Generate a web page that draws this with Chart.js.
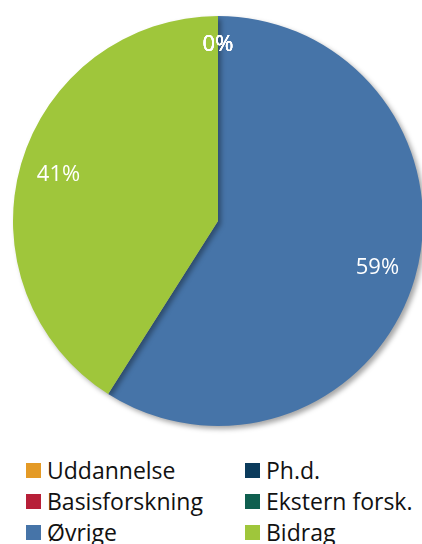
<!DOCTYPE html>
<html>
<head>
<meta charset="utf-8">
<script src="https://cdn.jsdelivr.net/npm/chart.js@4"></script>
<style>
  body { margin: 0; background: #fff; overflow: hidden; width: 422px; height: 544px; position: relative; }
  #wrap { position: absolute; left: 0; top: 0; width: 440px; height: 440px; }
  #legend { position: absolute; left: 26px; top: 457px; display: grid; grid-template-columns: 219px 180px; row-gap: 5px;
            font-family: "Open Sans", sans-serif; font-size: 23px; color: #111; }
  #legend div { display: flex; align-items: center; height: 26px; white-space: nowrap; }
  #legend span { display: inline-block; width: 15px; height: 15px; margin-right: 6px; }
</style>
</head>
<body>
<div id="wrap"><canvas id="pieChart"></canvas></div>
<div id="legend"></div>
<script>
// categories and shares
const labels = ['Uddannelse', 'Ph.d.', 'Basisforskning', 'Ekstern forsk.', 'Øvrige', 'Bidrag'];
const shares = [0, 0, 0, 0, 59, 41];
const colors = ['#E49A26', '#0B3B5C', '#B71F38', '#0F5F4F', '#4674A8', '#9FC63B'];

// legend, two columns like the original
const legendEl = document.getElementById('legend');
labels.forEach(function(l, i) {
  const item = document.createElement('div');
  item.innerHTML = '<span style="background:' + colors[i] + '"></span>' + l;
  legendEl.appendChild(item);
});

// soft shadow under the pie
const pieShadow = {
  id: 'pieShadow',
  beforeDatasetsDraw(chart) {
    const c = chart.ctx;
    c.save();
    c.shadowColor = 'rgba(0,0,0,0.35)';
    c.shadowBlur = 5;
    c.shadowOffsetX = 3;
    c.shadowOffsetY = 3;
  },
  afterDatasetsDraw(chart) {
    chart.ctx.restore();
  }
};

// percent labels inside the slices
const pctLabels = {
  id: 'pctLabels',
  afterDraw(chart) {
    const c = chart.ctx;
    const meta = chart.getDatasetMeta(0);
    const data = chart.data.datasets[0].data;
    const total = data.reduce((a, b) => a + b, 0);
    c.save();
    c.fillStyle = '#fff';
    c.font = '22px "Open Sans", sans-serif';
    c.textAlign = 'center';
    c.textBaseline = 'middle';
    meta.data.forEach(function(arc, i) {
      const p = arc.getProps(['x', 'y', 'startAngle', 'endAngle', 'outerRadius'], true);
      const mid = (p.startAngle + p.endAngle) / 2;
      const f = data[i] < 1 ? 0.86 : 0.81;
      const px = p.x + Math.cos(mid) * p.outerRadius * f;
      const py = p.y + Math.sin(mid) * p.outerRadius * f;
      c.fillText(Math.round(data[i] / total * 100) + '%', px, py);
    });
    c.restore();
  }
};

const ctx = document.getElementById('pieChart').getContext('2d');
new Chart(ctx, {
  type: 'pie',
  data: {
    labels: labels,
    datasets: [{
      data: shares,
      backgroundColor: colors,
      borderWidth: 0
    }]
  },
  options: {
    responsive: true,
    maintainAspectRatio: false,
    animation: false,
    layout: { padding: { left: 13, top: 16, right: 17, bottom: 14 } },
    plugins: {
      legend: { display: false },
      tooltip: { enabled: false }
    }
  },
  plugins: [pieShadow, pctLabels]
});
</script>
</body>
</html>
